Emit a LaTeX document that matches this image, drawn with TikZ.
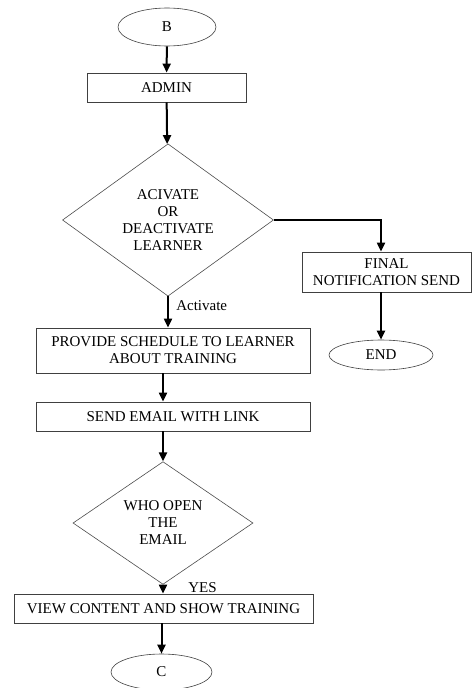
\documentclass[tikz,border=0pt]{standalone}
\usepackage{fontspec}
\setmainfont{Liberation Serif}
\usetikzlibrary{shapes.geometric}
\usetikzlibrary{arrows.meta}
\begin{document}
\begin{tikzpicture}[x=1pt,y=-1pt,
        font=\fontsize{15}{17}\selectfont,
        box/.style={draw=black!75,line width=0.8pt,inner sep=0pt,align=center},
        decision/.style={diamond,draw=black!70,line width=0.6pt,inner sep=0pt,align=center},
        term/.style={ellipse,draw=black!75,line width=0.6pt,inner sep=0pt},
        arr/.style={line width=2pt,-{Triangle[length=9pt,width=8pt]}}]
            \useasboundingbox (0,0) rectangle (472,688);
            \node[term,minimum width=98,minimum height=38] (b) at (167,27) {B};
            \node[box,minimum width=159,minimum height=29] (admin) at (166.5,87.5) {ADMIN};
            \node[decision,minimum width=211,minimum height=144] (act) at (168,220) {ACIVATE\\OR\\DEACTIVATE\\LEARNER};
            \node[box,minimum width=169,minimum height=40] (final) at (386.5,272) {FINAL\\NOTIFICATION SEND};
            \node[term,minimum width=104,minimum height=30] (end) at (381,355) {END};
            \node[box,minimum width=274,minimum height=45] (prov) at (173,350.5) {PROVIDE SCHEDULE TO LEARNER\\ABOUT TRAINING};
            \node[box,minimum width=274,minimum height=29] (send) at (173,416.5) {SEND EMAIL WITH LINK};
            \node[decision,minimum width=180,minimum height=110] (open) at (163,523) {WHO OPEN\\THE\\EMAIL};
            \node[box,minimum width=299,minimum height=29] (view) at (163.5,608.5) {VIEW CONTENT AND SHOW TRAINING};
            \node[term,minimum width=101,minimum height=36] (c) at (161.5,672) {C};

            \draw[arr] (b) -- (admin);
            \draw[arr] (admin) -- (act);
            \draw[arr] (act.east) -| ([xshift=-5.5]final.north);
            \draw[arr] ([xshift=-5.5]final.south) -- (end.north);
            \draw[arr] (act.south) -- (act.south |- prov.north) node[right=4pt,pos=0.3] {Activate};
            \draw[arr] (prov.south -| open.north) -- (send.north -| open.north);
            \draw[arr] (send.south -| open.north) -- (open.north);
            \draw[arr] (open.south) -- (open.south |- view.north) node[right=21pt,pos=0.35] {YES};
            \draw[arr] (view.south -| c.north) -- (c.north);
        \end{tikzpicture}
\end{document}
